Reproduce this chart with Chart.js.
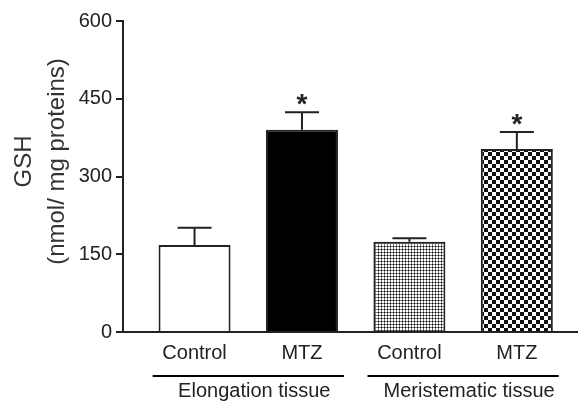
<!DOCTYPE html>
<html>
<head>
<meta charset="utf-8">
<script src="https://cdn.jsdelivr.net/npm/chart.js@4.4.0/dist/chart.umd.min.js"></script>
<style>
  html, body { margin: 0; padding: 0; background: #fff; }
  #wrap { width: 578px; height: 403px; }
</style>
</head>
<body>
<div id="wrap"><canvas id="chart" width="578" height="403"></canvas></div>
<script>
// Data
const categories = ['Control', 'MTZ', 'Control', 'MTZ'];
const gshValues = [168, 390, 174, 353];
const gshErrors = [33, 34, 7, 33];
const significant = [false, true, false, true];
const groupLabels = ['Elongation tissue', 'Meristematic tissue'];
const groupMembers = [[0, 1], [2, 3]];
const yTicks = [0, 150, 300, 450, 600];
const yTitle = ['GSH', '(nmol/ mg proteins)'];

const ink = '#222';
const fontFamily = '"Liberation Sans", Arial, sans-serif';

// Fill patterns for the meristematic bars
const makePattern = (size, draw) => {
    const c = document.createElement('canvas');
    c.width = size;
    c.height = size;
    const g = c.getContext('2d');
    g.fillStyle = '#fff';
    g.fillRect(0, 0, size, size);
    draw(g);
    return g.createPattern(c, 'repeat');
};

const finePattern = makePattern(3, g => {
    g.fillStyle = '#777';
    g.fillRect(0, 0, 3, 1);
    g.fillRect(0, 0, 1, 3);
    g.fillStyle = '#111';
    g.fillRect(0, 0, 1, 1);
});

const checkPattern = makePattern(8, g => {
    g.fillStyle = '#111';
    g.fillRect(0, 0, 4, 4);
    g.fillRect(4, 4, 4, 4);
});

const barFills = ['#fff', '#000', finePattern, checkPattern];

// Error bars (upper half only) and significance stars
const errorBars = {
    id: 'errorBars',
    afterDatasetsDraw(chart) {
        const { ctx, scales: { x, y } } = chart;
        ctx.save();
        ctx.strokeStyle = ink;
        ctx.lineWidth = 2;
        gshValues.forEach((v, i) => {
            const cx = x.getPixelForValue(i);
            const top = y.getPixelForValue(v + gshErrors[i]);
            ctx.beginPath();
            ctx.moveTo(cx, y.getPixelForValue(v));
            ctx.lineTo(cx, top);
            ctx.moveTo(cx - 17, top);
            ctx.lineTo(cx + 17, top);
            ctx.stroke();
            if (significant[i]) {
                ctx.fillStyle = ink;
                ctx.font = `bold 28px ${fontFamily}`;
                ctx.textAlign = 'center';
                ctx.textBaseline = 'alphabetic';
                ctx.fillText('*', cx, top - 15 + 16);
            }
        });
        ctx.restore();
    }
};

// Two-line rotated y title, sitting a little above the axis middle
const yAxisTitle = {
    id: 'yAxisTitle',
    afterDraw(chart) {
        const { ctx, chartArea } = chart;
        const cy = (chartArea.top + chartArea.bottom) / 2 - 15;
        ctx.save();
        ctx.fillStyle = '#333';
        ctx.font = `24px ${fontFamily}`;
        ctx.textAlign = 'center';
        ctx.textBaseline = 'middle';
        yTitle.forEach((line, i) => {
            ctx.save();
            ctx.translate(24 + i * 33, cy);
            ctx.rotate(-Math.PI / 2);
            ctx.fillText(line, 0, 0);
            ctx.restore();
        });
        ctx.restore();
    }
};

// Group brackets under the category labels
const groupAxis = {
    id: 'groupAxis',
    afterDraw(chart) {
        const { ctx, scales: { x } } = chart;
        const lineY = x.bottom - 27;
        ctx.save();
        ctx.strokeStyle = '#000';
        ctx.lineWidth = 2;
        ctx.fillStyle = ink;
        ctx.font = `20px ${fontFamily}`;
        ctx.textAlign = 'center';
        ctx.textBaseline = 'middle';
        groupLabels.forEach((label, gi) => {
            const members = groupMembers[gi];
            const x0 = x.getPixelForValue(members[0] - 0.39);
            const x1 = x.getPixelForValue(members[members.length - 1] + 0.39);
            ctx.beginPath();
            ctx.moveTo(x0, lineY);
            ctx.lineTo(x1, lineY);
            ctx.stroke();
            ctx.fillText(label, (x0 + x1) / 2 + 6, lineY + 15);
        });
        ctx.restore();
    }
};

new Chart(document.getElementById('chart'), {
    type: 'bar',
    data: {
        datasets: [{
            data: gshValues.map((v, i) => ({ x: i, y: v })),
            backgroundColor: barFills,
            borderColor: ink,
            borderWidth: 2,
            borderSkipped: 'bottom',
            barPercentage: 0.67,
            categoryPercentage: 1
        }]
    },
    options: {
        responsive: false,
        animation: false,
        layout: { padding: { top: 21, right: 1, left: 0, bottom: 0 } },
        plugins: {
            legend: { display: false },
            tooltip: { enabled: false }
        },
        scales: {
            x: {
                type: 'linear',
                offset: false,
                min: -0.666,
                max: 3.56,
                afterFit: s => { s.height = 71; },
                afterBuildTicks: s => { s.ticks = categories.map((_, i) => ({ value: i })); },
                grid: { display: false, drawTicks: false },
                border: { display: true, color: ink, width: 2 },
                ticks: {
                    autoSkip: false,
                    maxRotation: 0,
                    padding: 9,
                    color: ink,
                    font: { family: fontFamily, size: 20 },
                    callback: v => categories[v]
                }
            },
            y: {
                min: 0,
                max: 600,
                afterFit: s => { s.width = 123; },
                afterBuildTicks: s => { s.ticks = yTicks.map(v => ({ value: v })); },
                grid: { drawOnChartArea: false, drawTicks: true, tickLength: 7, color: ink, lineWidth: 2 },
                border: { display: true, color: ink, width: 2 },
                ticks: {
                    padding: 4,
                    color: ink,
                    font: { family: fontFamily, size: 20 }
                }
            }
        }
    },
    plugins: [errorBars, yAxisTitle, groupAxis]
});
</script>
</body>
</html>
